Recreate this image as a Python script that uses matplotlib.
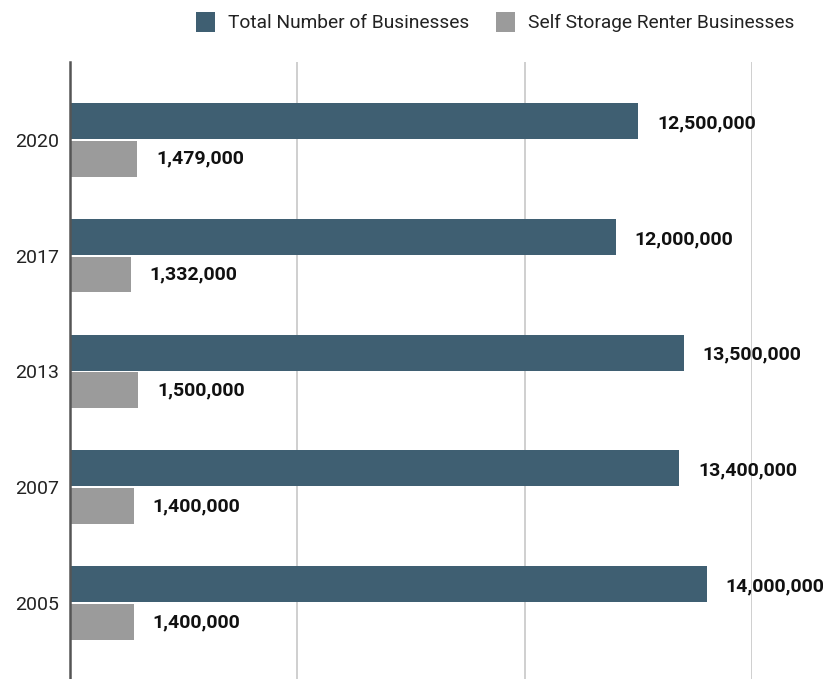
import matplotlib
matplotlib.use("Agg")
import matplotlib.pyplot as plt
from matplotlib.patches import Patch
import numpy as np

plt.rcParams['font.family'] = ['Roboto', 'DejaVu Sans']

years = ["2020", "2017", "2013", "2007", "2005"]
total_businesses = [12500000, 12000000, 13500000, 13400000, 14000000]
storage_renters = [1479000, 1332000, 1500000, 1400000, 1400000]
series_names = ["Total Number of Businesses", "Self Storage Renter Businesses"]

c_dark = "#3f5f72"
c_gray = "#9b9b9b"

fig = plt.figure(figsize=(8.27, 6.79), dpi=100)
ax = fig.add_axes([70/827, 0, (752-70)/827, (679-62)/679])

y = np.arange(len(years))
h = 0.31
off = 0.163
ax.barh(y - off, total_businesses, height=h, color=c_dark, zorder=3)
ax.barh(y + off, storage_renters, height=h, color=c_gray, zorder=3)

for yi, v in zip(y, total_businesses):
    ax.annotate(f"{v:,}", (v, yi - off + 0.02), xytext=(19, 0), textcoords="offset pixels",
                va="center", ha="left", fontsize=14, fontweight="bold", color="#111111",
                annotation_clip=False)
for yi, v in zip(y, storage_renters):
    ax.annotate(f"{v:,}", (v, yi + off), xytext=(19, 0), textcoords="offset pixels",
                va="center", ha="left", fontsize=14, fontweight="bold", color="#111111",
                annotation_clip=False)

ax.set_xlim(0, 15000000)
ax.set_ylim(4.655, -0.672)
ax.set_xticks([0, 5000000, 10000000, 15000000])
ax.set_xticklabels([])
ax.tick_params(axis="x", length=0)
ax.set_yticks(y)
ax.set_yticklabels(years, fontsize=14, color="#222222")
ax.tick_params(axis="y", length=0, pad=8)
ax.grid(axis="x", color="#cccccc", linewidth=1.3, zorder=0)
for s in ["top", "right", "bottom"]:
    ax.spines[s].set_visible(False)
ax.spines["left"].set_color("#555555")
ax.spines["left"].set_linewidth(1.8)
ax.spines["left"].set_zorder(4)

handles = [Patch(facecolor=c_dark, edgecolor="none"), Patch(facecolor=c_gray, edgecolor="none")]
fig.legend(handles, series_names, loc="center right", bbox_to_anchor=(812/827, 1 - 22/679),
           ncol=2, frameon=False, fontsize=13.8, handlelength=1.0, handleheight=1.3,
           handletextpad=0.68, columnspacing=1.4, labelcolor="#222222")

fig.savefig("out.png", dpi=100)
